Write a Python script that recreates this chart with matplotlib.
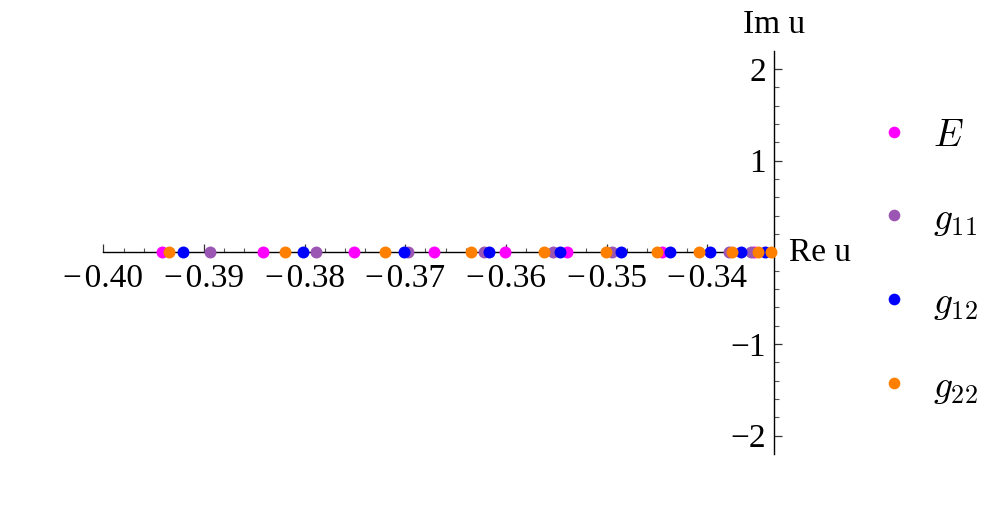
import matplotlib
matplotlib.use("Agg")
import matplotlib.pyplot as plt
from matplotlib.ticker import FixedLocator, FuncFormatter
from matplotlib.lines import Line2D
import numpy as np

# ---- data (real parts of roots; imaginary parts are zero) ----
series_names = ["E", "g11", "g12", "g22"]
series_labels = [r"$E$", r"$g_{11}$", r"$g_{12}$", r"$g_{22}$"]
series_colors = ["#ff00ff", "#9b55b2", "#0000ff", "#ff8000"]

E_re = [-0.39423, -0.38415, -0.37512, -0.36711, -0.36010, -0.35395, -0.34446, -0.33537]
E_im = [0.0] * len(E_re)
g11_re = [-0.38937, -0.37885, -0.36969, -0.36215, -0.35531, -0.34943, -0.33785, -0.33569]
g11_im = [0.0] * len(g11_re)
g12_re = [-0.39208, -0.38018, -0.37016, -0.36173, -0.35461, -0.34859, -0.34370, -0.33973,
          -0.33663, -0.33428]
g12_im = [0.0] * len(g12_re)
g22_re = [-0.39350, -0.38192, -0.37200, -0.36347, -0.35620, -0.35002, -0.34496, -0.34082,
          -0.33758, -0.33497, -0.33371]
g22_im = [0.0] * len(g22_re)

x_ticks = [-0.40, -0.39, -0.38, -0.37, -0.36, -0.35, -0.34]
y_ticks = [-2, -1, 1, 2]

W, H = 997, 523
fig = plt.figure(figsize=(W / 100, H / 100), dpi=100)
plt.rcParams['mathtext.fontset'] = 'cm'
serif = ['Liberation Serif', 'DejaVu Serif']

x0, x1 = -0.40, -1 / 3
ylo, yhi = -2.2, 2.2
# axes placement in pixels
L, R, T, B = 103.5, 774.3, 50.7, 454.0
ax = fig.add_axes([L / W, 1 - B / H, (R - L) / W, (B - T) / H])
ax.set_xlim(x0, x1)
ax.set_ylim(ylo, yhi)
ax.patch.set_alpha(0)

for sp in ['top', 'right']:
    ax.spines[sp].set_visible(False)
ax.spines['left'].set_position(('data', x1))
ax.spines['bottom'].set_position(('data', 0))
for sp in ['left', 'bottom']:
    ax.spines[sp].set_linewidth(1.0)
    ax.spines[sp].set_color('black')

ax.xaxis.set_major_locator(FixedLocator(x_ticks))
ax.xaxis.set_minor_locator(FixedLocator(list(np.round(np.arange(-0.400, -0.3332, 0.002), 4))))
ax.yaxis.set_major_locator(FixedLocator(y_ticks))
ax.yaxis.set_minor_locator(FixedLocator([v for v in np.round(np.arange(-2.0, 2.01, 0.2), 2)
                                         if abs(v) > 1e-9]))

ax.xaxis.set_major_formatter(FuncFormatter(lambda v, p: "\u2212\u200a" + f"{abs(v):.2f}"))
ax.yaxis.set_major_formatter(FuncFormatter(lambda v, p: ("\u2212" if v < 0 else "") + f"{abs(int(v))}"))

ax.tick_params(axis='x', which='major', direction='in', length=6, width=0.9, pad=8, color='#333333')
ax.tick_params(axis='x', which='minor', direction='in', length=3, width=0.8, color='#555555')
ax.tick_params(axis='y', which='major', direction='in', length=6, width=0.9, pad=6, color='#333333')
ax.tick_params(axis='y', which='minor', direction='in', length=3.5, width=0.8, color='#555555')

for lab in ax.get_xticklabels() + ax.get_yticklabels():
    lab.set_fontfamily(serif)
    lab.set_fontsize(24)

data = [(E_re, E_im), (g11_re, g11_im), (g12_re, g12_im), (g22_re, g22_im)]
for (xs, ys), c in zip(data, series_colors):
    ax.plot(xs, ys, 'o', color=c, markersize=8.6, markeredgewidth=0, clip_on=False, zorder=3)

# axis labels
fig.text(742.7 / W, 1 - 33 / H, "Im u", family=serif, fontsize=24, ha='left', va='baseline')
fig.text(789 / W, 1 - 252.4 / H, "Re u", family=serif, fontsize=24, ha='left', va='center')

# legend
leg_y = [131.7, 215.0, 299.0, 382.7]
for lbl, c, yy in zip(series_labels, series_colors, leg_y):
    fig.add_artist(Line2D([894 / W], [1 - yy / H], marker='o', color=c, markersize=8.4,
                          markeredgewidth=0, linestyle='none', transform=fig.transFigure))
    fig.text(933 / W, 1 - (yy + 14) / H, lbl, fontsize=27, ha='left', va='baseline')

fig.savefig("out.png", dpi=100)
